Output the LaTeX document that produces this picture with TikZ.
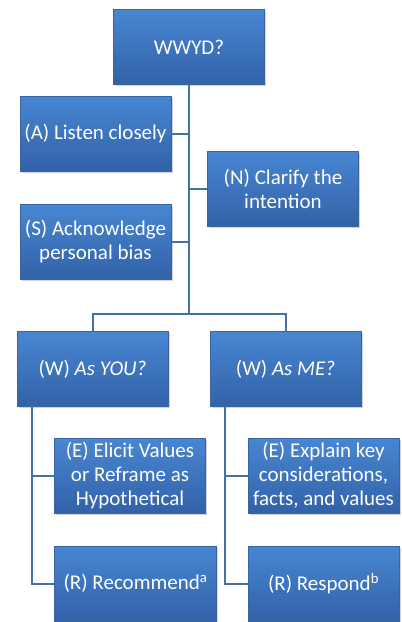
\documentclass[tikz,border=0pt]{standalone}
\usepackage{fontspec}
\setmainfont{Carlito}
\usepackage{tikz}
\usetikzlibrary{shadows}
\definecolor{boxtop}{RGB}{72,134,210}
\definecolor{boxbot}{RGB}{50,98,168}
\definecolor{boxedge}{RGB}{58,100,160}
\definecolor{linkblue}{RGB}{68,114,168}
\tikzset{
  stepbox/.style={rectangle, draw=boxedge, line width=0.6pt,
    top color=boxtop, bottom color=boxbot,
    minimum width=151pt, minimum height=75pt, inner sep=1pt,
    text=white, align=center, font=\fontsize{21}{24}\selectfont,
    drop shadow={shadow xshift=1.5pt, shadow yshift=-1.5pt, opacity=0.35}},
  link/.style={draw=linkblue, line width=2pt}
}

\begin{document}
\begin{tikzpicture}[x=1pt, y=-1pt]
  \useasboundingbox (0,0) rectangle (402,622);
  % Nodes
  \node[stepbox] (wwyd) at (189, 47) {WWYD?};
  \node[stepbox] (listen) at (95.5, 133.5) {(A) Listen closely};
  \node[stepbox] (clarify) at (283, 188.5) {(N) Clarify the\\intention};
  \node[stepbox] (bias) at (95.5, 242) {(S) Acknowledge\\personal bias};

  \node[stepbox] (asyou) at (92.5, 369) {(W) \textit{As YOU?}};
  \node[stepbox] (asme) at (285.5, 369) {(W) \textit{As ME?}};

  \node[stepbox] (elicit) at (130, 475.5) {(E) Elicit Values\\or Reframe as\\Hypothetical};
  \node[stepbox, minimum width=162pt] (recommend) at (135.5, 583.5) {(R) Recommend\textsuperscript{a}};
  \node[stepbox] (explain) at (323.5, 475.5) {(E) Explain key\\considerations,\\facts, and values};
  \node[stepbox] (respond) at (323.5, 583.5) {(R) Respond\textsuperscript{b}};

  \coordinate (split) at (189, 314);
  \coordinate (yourail) at (32, 406);
  \coordinate (merail) at (225, 406);

  % Connections
  \draw[link] (wwyd.south) |- (listen.east);
  \draw[link] (wwyd.south) |- (clarify.west);
  \draw[link] (wwyd.south) |- (bias.east);
  \draw[link] (wwyd.south) -- (split);
  \draw[link] (split) -| (asyou.north);
  \draw[link] (split) -| (asme.north);

  \draw[link] (yourail) |- (elicit.west);
  \draw[link] (yourail) |- (recommend.west);
  \draw[link] (merail) |- (explain.west);
  \draw[link] (merail) |- (respond.west);
\end{tikzpicture}
\end{document}
